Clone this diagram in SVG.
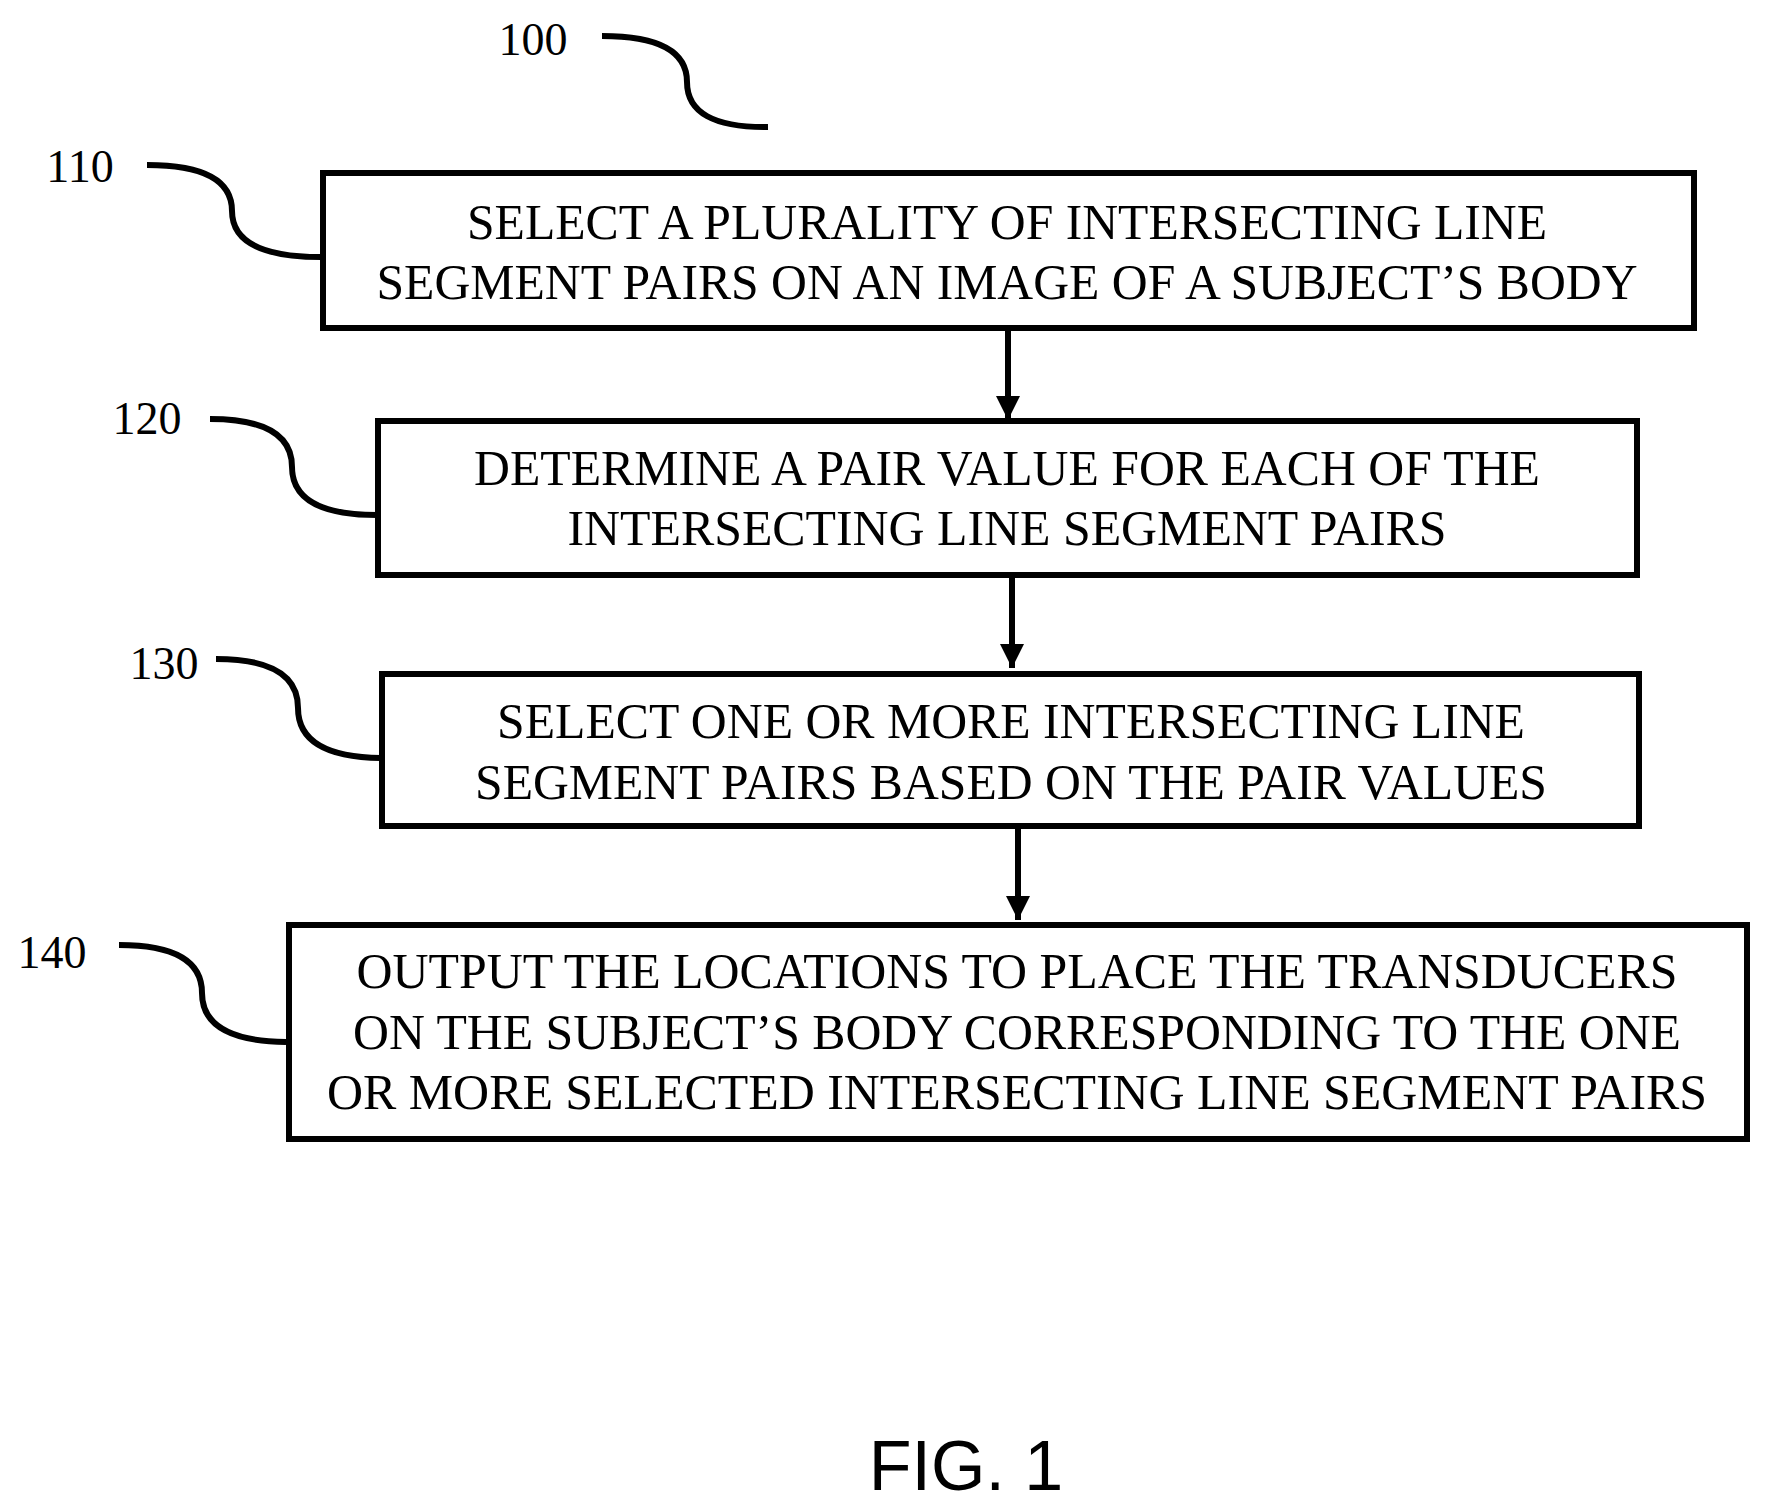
<svg xmlns="http://www.w3.org/2000/svg" width="1772" height="1505" viewBox="0 0 1772 1505">
<style>
.box{fill:#fff;stroke:#000;stroke-width:6}
.t{font-family:"Liberation Serif","Times New Roman",serif;font-size:50px;text-anchor:middle;fill:#000}
.ref{font-family:"Liberation Serif","Times New Roman",serif;font-size:46px;text-anchor:middle;fill:#000}
.lead{fill:none;stroke:#000;stroke-width:6}
.conn{stroke:#000;stroke-width:6}
</style>
<defs><marker id="ah" markerUnits="userSpaceOnUse" markerWidth="26" markerHeight="24" refX="24" refY="12" orient="auto"><path d="M0,0 L24,12 L0,24 Z" fill="#000"/></marker></defs>
<rect width="1772" height="1505" fill="#fff"/>
<g id="ref100"><text class="ref" x="533" y="55">100</text><path class="lead" d="M602,36 Q687,36 687,82 T768,127"/></g>
<g id="n110"><text class="ref" x="80" y="182">110</text><path class="lead" d="M147,165 Q232,165 232,211 T321,257"/>
<rect class="box" x="323" y="173" width="1371" height="155"/>
<text class="t" x="1007" y="239" textLength="1080" lengthAdjust="spacingAndGlyphs">SELECT A PLURALITY OF INTERSECTING LINE</text>
<text class="t" x="1007" y="299" textLength="1261" lengthAdjust="spacingAndGlyphs">SEGMENT PAIRS ON AN IMAGE OF A SUBJECT’S BODY</text></g>
<g id="n120"><text class="ref" x="147" y="434">120</text><path class="lead" d="M210,419 Q292,419 292,467 T377,515"/>
<rect class="box" x="378" y="421" width="1259" height="154"/>
<text class="t" x="1007" y="485" textLength="1066" lengthAdjust="spacingAndGlyphs">DETERMINE A PAIR VALUE FOR EACH OF THE</text>
<text class="t" x="1007" y="545" textLength="879" lengthAdjust="spacingAndGlyphs">INTERSECTING LINE SEGMENT PAIRS</text></g>
<g id="n130"><text class="ref" x="164" y="679">130</text><path class="lead" d="M216,659 Q298,659 298,708 T381,758"/>
<rect class="box" x="382" y="674" width="1257" height="152"/>
<text class="t" x="1011" y="738" textLength="1028" lengthAdjust="spacingAndGlyphs">SELECT ONE OR MORE INTERSECTING LINE</text>
<text class="t" x="1011" y="799" textLength="1072" lengthAdjust="spacingAndGlyphs">SEGMENT PAIRS BASED ON THE PAIR VALUES</text></g>
<g id="n140"><text class="ref" x="52" y="968">140</text><path class="lead" d="M119,945 Q202,945 202,993 T286,1042"/>
<rect class="box" x="289" y="925" width="1458" height="214"/>
<text class="t" x="1017" y="988" textLength="1321" lengthAdjust="spacingAndGlyphs">OUTPUT THE LOCATIONS TO PLACE THE TRANSDUCERS</text>
<text class="t" x="1017" y="1049" textLength="1328" lengthAdjust="spacingAndGlyphs">ON THE SUBJECT’S BODY CORRESPONDING TO THE ONE</text>
<text class="t" x="1017" y="1109" textLength="1380" lengthAdjust="spacingAndGlyphs">OR MORE SELECTED INTERSECTING LINE SEGMENT PAIRS</text></g>
<g id="connectors">
<line class="conn" x1="1008" y1="331" x2="1008" y2="420" marker-end="url(#ah)"/>
<line class="conn" x1="1012" y1="578" x2="1012" y2="668" marker-end="url(#ah)"/>
<line class="conn" x1="1018" y1="829" x2="1018" y2="920" marker-end="url(#ah)"/>
</g>
<text x="966" y="1490" style="font-family:'Liberation Sans',Arial,sans-serif;font-size:70px;text-anchor:middle">FIG. 1</text>
</svg>
